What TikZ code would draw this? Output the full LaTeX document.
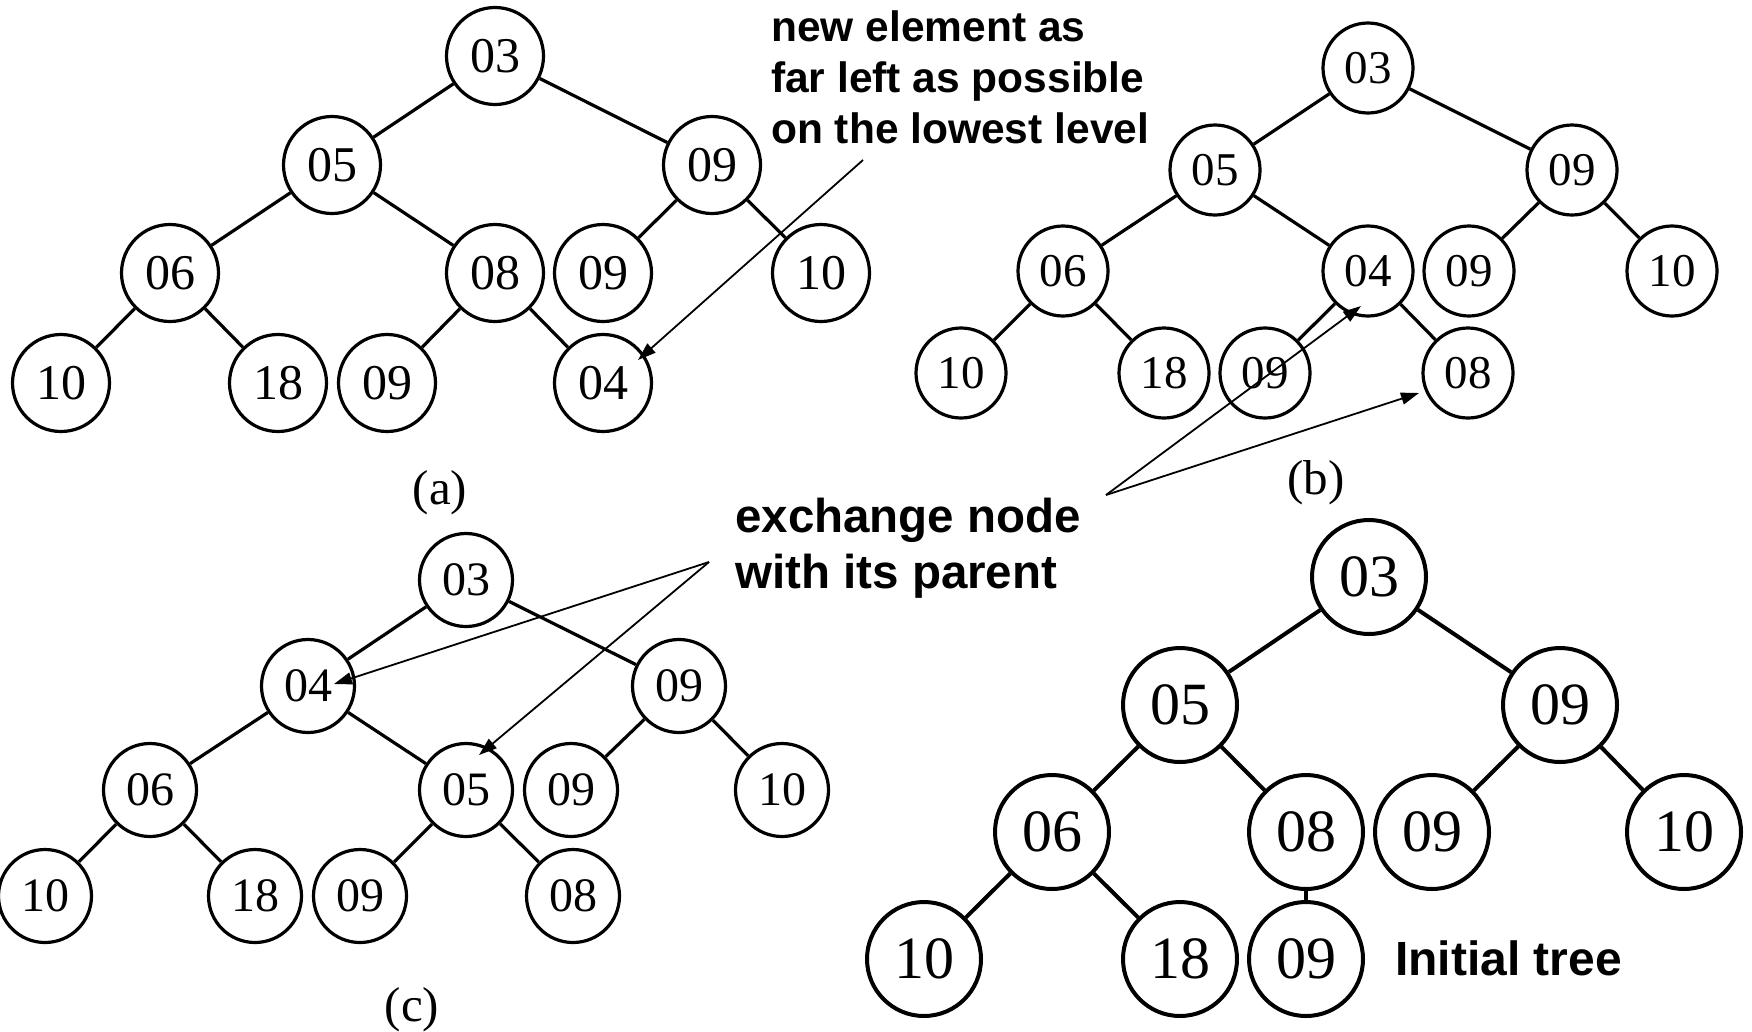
\documentclass[tikz,border=0pt]{standalone}
\usepackage{fontspec}
\setmainfont{Liberation Serif}
\newfontfamily\notefont{Liberation Sans}
\usetikzlibrary{arrows.meta}

\begin{document}
\begin{tikzpicture}[x=1pt,y=-1pt,
  key/.style={circle, draw, inner sep=0pt},
  akey/.style={key, line width=3.2pt, minimum size=97pt, font=\fontsize{50}{50}\selectfont},
  bkey/.style={key, line width=3.2pt, minimum size=90pt, font=\fontsize{47}{47}\selectfont},
  ckey/.style={key, line width=3.2pt, minimum size=93pt, font=\fontsize{48}{48}\selectfont},
  ikey/.style={key, line width=4pt, minimum size=114pt, font=\fontsize{60}{60}\selectfont},
  edge/.style={line width=3.2pt},
  iedge/.style={line width=4pt},
  pointer/.style={line width=1.8pt, -{Triangle[length=18pt,width=12pt]}},
  caption/.style={inner sep=0pt, font=\fontsize{49}{49}\selectfont},
  note/.style={inner sep=0pt, font=\notefont\bfseries\fontsize{42.5}{51}\selectfont},
]
\useasboundingbox (0,0) rectangle (1752,1031);

% ---------- (a): new key appended at the bottom ----------
\node[akey] (a1)  at (495,56)  {03};
\node[akey] (a2)  at (332,165) {05};
\node[akey] (a3)  at (712,165) {09};
\node[akey] (a4)  at (170,273) {06};
\node[akey] (a5)  at (495,273) {08};
\node[akey] (a6)  at (603,273) {09};
\node[akey] (a7)  at (821,273) {10};
\node[akey] (a8)  at (61,383)  {10};
\node[akey] (a9)  at (278,383) {18};
\node[akey] (a10) at (387,383) {09};
\node[akey] (a11) at (603,383) {04};
\foreach \p/\c in {a1/a2,a1/a3,a2/a4,a2/a5,a3/a6,a3/a7,a4/a8,a4/a9,a5/a10,a5/a11}
  \draw[edge] (\p) -- (\c);
\node[caption] (capa) at (440,493) {(a)};

% ---------- (b): first swap ----------
\node[bkey] (b1)  at (1368,68)  {03};
\node[bkey] (b2)  at (1215,170) {05};
\node[bkey] (b3)  at (1572,170) {09};
\node[bkey] (b4)  at (1063,271) {06};
\node[bkey] (b5)  at (1368,271) {04};
\node[bkey] (b6)  at (1469,271) {09};
\node[bkey] (b7)  at (1672,271) {10};
\node[bkey] (b8)  at (961,373)  {10};
\node[bkey] (b9)  at (1164,373) {18};
\node[bkey] (b10) at (1265,373) {09};
\node[bkey] (b11) at (1468,373) {08};
\foreach \p/\c in {b1/b2,b1/b3,b2/b4,b2/b5,b3/b6,b3/b7,b4/b8,b4/b9,b5/b10,b5/b11}
  \draw[edge] (\p) -- (\c);
\node[caption] (capb) at (1316,483) {(b)};

% ---------- (c): second swap ----------
\node[ckey] (c1)  at (466,580) {03};
\node[ckey] (c2)  at (308,686) {04};
\node[ckey] (c3)  at (679,686) {09};
\node[ckey] (c4)  at (150,790) {06};
\node[ckey] (c5)  at (466,790) {05};
\node[ckey] (c6)  at (571,790) {09};
\node[ckey] (c7)  at (782,790) {10};
\node[ckey] (c8)  at (45,896)  {10};
\node[ckey] (c9)  at (255,896) {18};
\node[ckey] (c10) at (360,896) {09};
\node[ckey] (c11) at (573,896) {08};
\foreach \p/\c in {c1/c2,c1/c3,c2/c4,c2/c5,c3/c6,c3/c7,c4/c8,c4/c9,c5/c10,c5/c11}
  \draw[edge] (\p) -- (\c);
\node[caption] (capc) at (412,1010) {(c)};

% ---------- initial heap ----------
\node[ikey] (i1)  at (1369,577) {03};
\node[ikey] (i2)  at (1180,705) {05};
\node[ikey] (i3)  at (1560,705) {09};
\node[ikey] (i4)  at (1052,832) {06};
\node[ikey] (i5)  at (1306,832) {08};
\node[ikey] (i6)  at (1432,832) {09};
\node[ikey] (i7)  at (1684,832) {10};
\node[ikey] (i8)  at (924,959)  {10};
\node[ikey] (i9)  at (1180,959) {18};
\node[ikey] (i10) at (1306,959) {09};
\foreach \p/\c in {i1/i2,i1/i3,i2/i4,i2/i5,i3/i6,i3/i7,i4/i8,i4/i9,i5/i10}
  \draw[iedge] (\p) -- (\c);
\node[note, anchor=base west, font=\notefont\bfseries\fontsize{48}{48}\selectfont]
  (inittxt) at (1395,975) {Initial tree};

% ---------- annotations ----------
\node[note, align=left, anchor=north west] (newtxt) at (771,10.3)
  {new element as\\far left as possible\\on the lowest level};
\coordinate (newtail) at (863,160);
\draw[pointer] (newtail) -- ([shift={(35,-23)}]a11.center);

\node[note, align=left, anchor=north west, font=\notefont\bfseries\fontsize{47.5}{56}\selectfont]
  (swaptxt) at (735,498) {exchange node\\with its parent};
\coordinate (swaptailb) at (1106,495);
\coordinate (swaptailc) at (709,562);
\draw[pointer] (swaptailb) -- ([shift={(-7,35)}]b5.center);
\draw[pointer] (swaptailb) -- ([shift={(-49,20)}]b11.center);
\draw[pointer] (swaptailc) -- ([shift={(26,-2)}]c2.center);
\draw[pointer] (swaptailc) -- ([shift={(13,-35)}]c5.center);
\end{tikzpicture}
\end{document}
